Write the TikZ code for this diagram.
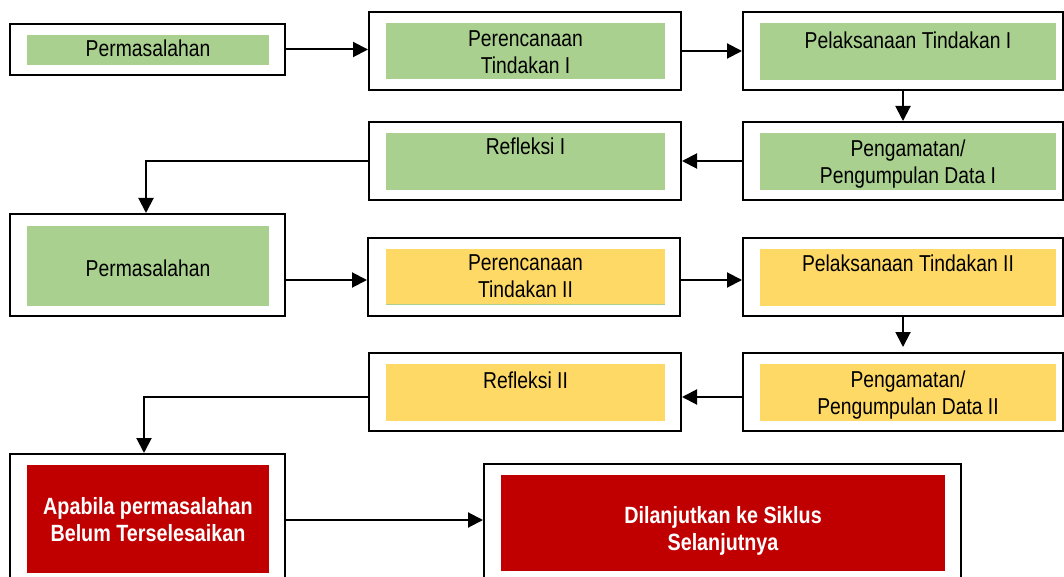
\documentclass[tikz,border=0pt]{standalone}
\usepackage{fontspec}
\setmainfont{Liberation Sans}[FakeStretch=0.84]
\usetikzlibrary{fit,arrows.meta}
\definecolor{gr}{HTML}{A9D08E}
\definecolor{yl}{HTML}{FFD966}
\definecolor{rd}{HTML}{C00000}
\tikzset{
  outerbox/.style={draw=black, line width=2pt, fill=white, inner sep=0pt},
  innerbox/.style={inner sep=0pt, draw=none},
  txt/.style={anchor=north, inner sep=0pt, align=center, font=\fontsize{23}{27}\selectfont},
  btxt/.style={anchor=north, inner sep=0pt, align=center, text=white, font=\bfseries\fontsize{23.5}{27}\selectfont},
  arr/.style={line width=2pt, -{Triangle[length=15pt,width=15pt]}}
}
\begin{document}
\begin{tikzpicture}[x=1pt,y=-1pt]
\useasboundingbox (0,0) rectangle (1064,577);
% row 1
\node[outerbox, fit={(10,24)(285,75)}] (A) {};
\node[innerbox, fill=gr, fit={(27,35)(269,65)}] (Ai) {};
\node[txt] (At) at (148,40) {Permasalahan};
\node[outerbox, fit={(369,12)(681,90)}] (B) {};
\node[innerbox, fill=gr, fit={(386,23)(665,79)}] (Bi) {};
\node[txt] (Bt) at (525.5,30) {Perencanaan\\Tindakan I};
\node[outerbox, fit={(743,12)(1063,90)}] (C) {};
\node[innerbox, fill=gr, fit={(760,23)(1056,80)}] (Ci) {};
\node[txt] (Ct) at (908,31.5) {Pelaksanaan Tindakan I};
% row 2
\node[outerbox, fit={(369,122)(681,200)}] (D) {};
\node[innerbox, fill=gr, fit={(386,133)(665,190)}] (Di) {};
\node[txt] (Dt) at (525.5,137.5) {Refleksi I};
\node[outerbox, fit={(743,122)(1063,200)}] (E) {};
\node[innerbox, fill=gr, fit={(760,133)(1056,190)}] (Ei) {};
\node[txt] (Et) at (908,139.5) {Pengamatan/\\Pengumpulan Data I};
% row 3
\node[outerbox, fit={(10,214)(285,316)}] (F) {};
\node[innerbox, fill=gr, fit={(27,226)(269,306)}] (Fi) {};
\node[txt] (Ft) at (148,260) {Permasalahan};
\node[outerbox, fit={(368,238)(680,316)}] (G) {};
\node[innerbox, fill=yl, fit={(386,249)(665,305)}] (Gi) {};
\draw[gr, line width=1.5pt] ([yshift=0.75pt]Gi.south west) -- ([yshift=0.75pt]Gi.south east);
\node[txt] (Gt) at (525.5,254.5) {Perencanaan\\Tindakan II};
\node[outerbox, fit={(743,238)(1063,316)}] (H) {};
\node[innerbox, fill=yl, fit={(760,249)(1056,306)}] (Hi) {};
\node[txt] (Ht) at (908,255) {Pelaksanaan Tindakan II};
% row 4
\node[outerbox, fit={(369,353)(681,431)}] (K) {};
\node[innerbox, fill=yl, fit={(386,364)(665,421)}] (Ki) {};
\node[txt] (Kt) at (525.5,371.5) {Refleksi II};
\node[outerbox, fit={(743,353)(1063,431)}] (J) {};
\node[innerbox, fill=yl, fit={(760,364)(1056,421)}] (Ji) {};
\node[txt] (Jt) at (908,371) {Pengamatan/\\Pengumpulan Data II};
% row 5
\node[outerbox, fit={(10,454)(285,590)}] (L) {};
\node[innerbox, fill=rd, fit={(27,465)(269,573)}] (Li) {};
\node[btxt] (Lt) at (148,497.5) {Apabila permasalahan\\Belum Terselesaikan};
\node[outerbox, fit={(484,464)(961,590)}] (M) {};
\node[innerbox, fill=rd, fit={(501,475)(945,571)}] (Mi) {};
\node[btxt] (Mt) at (723,506.5) {Dilanjutkan ke Siklus\\Selanjutnya};
% connectors
\draw[arr] (A.east) -- (A.east -| B.west);
\draw[arr] (B.east) -- (B.east -| C.west);
\draw[arr] (C.south) -- (E.north);
\draw[arr] (E.west) -- (E.west -| D.east);
\draw[arr] (D.west) -| ([xshift=-1.5pt]F.north);
\draw[arr] ([yshift=-3pt]F.east |- G.west) -- ([yshift=-3pt]G.west);
\draw[arr] ([yshift=-3pt]G.east) -- ([yshift=-3pt]H.west);
\draw[arr] (H.south) -- ([yshift=5pt]J.north);
\draw[arr] ([yshift=-5pt]J.west) -- ([yshift=-5pt]J.west -| K.east);
\draw[arr] ([yshift=-5pt]K.west) -| ([xshift=-3.5pt]L.north);
\coordinate (LM) at (285,520);
\draw[arr] (LM) -- (LM -| M.west);
\end{tikzpicture}
\end{document}
